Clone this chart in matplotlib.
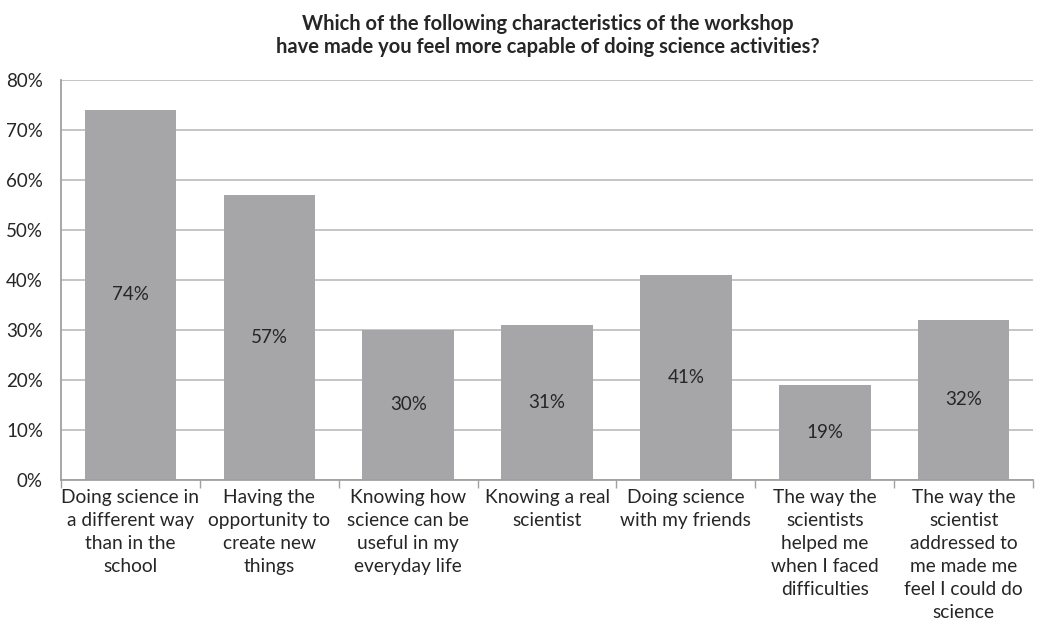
import numpy as np
import matplotlib.pyplot as plt

plt.rcParams['font.family'] = ['Lato', 'DejaVu Sans']

categories = [
    'Doing science in\na different way\nthan in the\nschool',
    'Having the\nopportunity to\ncreate new\nthings',
    'Knowing how\nscience can be\nuseful in my\neveryday life',
    'Knowing a real\nscientist',
    'Doing science\nwith my friends',
    'The way the\nscientists\nhelped me\nwhen I faced\ndifficulties',
    'The way the\nscientist\naddressed to\nme made me\nfeel I could do\nscience',
]
values = [74, 57, 30, 31, 41, 19, 32]
title = ('Which of the following characteristics of the workshop\n'
         'have made you feel more capable of doing science activities?')

fig = plt.figure(figsize=(10.49, 6.24), dpi=100)
ax = fig.add_axes([0.0582, 0.2308, 0.9266, 0.641])

x = np.arange(len(values))
bars = ax.bar(x, values, width=0.66, color='#a6a6a8', zorder=2)
for b, v in zip(bars, values):
    ax.text(b.get_x() + b.get_width() / 2, v / 2, '%d%%' % v,
            ha='center', va='center', fontsize=13.5, color='#262626', zorder=3)

ax.set_xlim(-0.5, len(values) - 0.5)
ax.set_ylim(0, 80)
ax.set_yticks(np.arange(0, 81, 10))
ax.set_yticklabels(['%d%%' % t for t in range(0, 81, 10)], fontsize=13.5, color='#262626')
ax.yaxis.grid(True, color='#c0c0c0', linewidth=1.3, zorder=0)
ax.tick_params(axis='y', length=0, pad=13)

# category labels between boundary ticks
ax.set_xticks(np.arange(-0.5, len(values), 1.0))
ax.set_xticklabels([])
ax.tick_params(axis='x', length=6, color='#a0a0a0', width=1)
for xi, lab in zip(x, categories):
    ax.text(xi, -1.9, lab, ha='center', va='top', fontsize=13.8,
            color='#262626', linespacing=1.42)

for s in ['top', 'right']:
    ax.spines[s].set_visible(False)
for s in ['left', 'bottom']:
    ax.spines[s].set_color('#a0a0a0')
    ax.spines[s].set_linewidth(1.3)

fig.text(0.5225, 0.978, title, ha='center', va='top', fontsize=14.5,
         fontweight='bold', color='#262626', linespacing=1.2)

fig.savefig('out.png', dpi=100)
